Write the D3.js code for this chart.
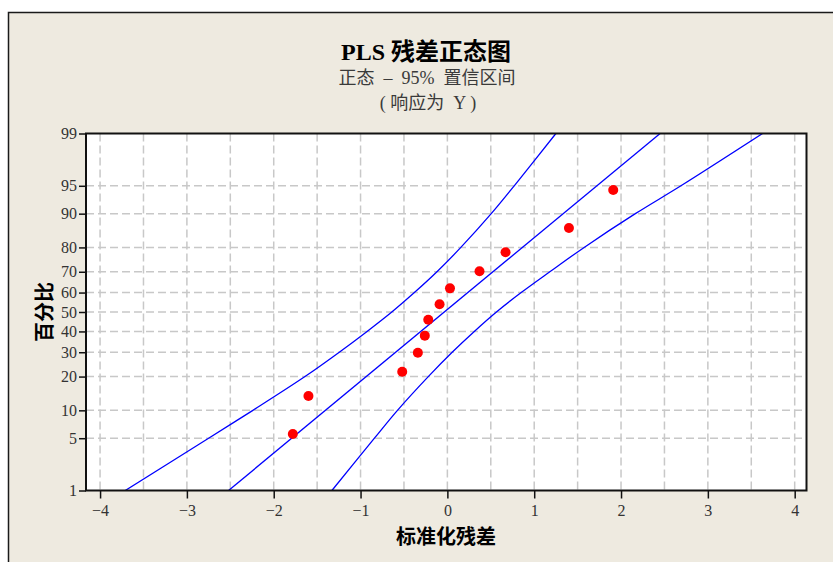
<!DOCTYPE html>
<html>
<head>
<meta charset="utf-8">
<script src="https://cdn.jsdelivr.net/npm/d3@7"></script>
<style>
body { margin: 0; background: #fff; }
</style>
</head>
<body>
<script>
// values
var pctTicks = [1, 5, 10, 20, 30, 40, 50, 60, 70, 80, 90, 95, 99];
var xTicks = [-4, -3, -2, -1, 0, 1, 2, 3, 4];
var gridX = [-4, -3.5, -3, -2.5, -2, -1.5, -1, -0.5, 0, 0.5, 1, 1.5, 2, 2.5, 3, 3.5, 4];
var residuals = [-1.78, -1.60, -0.52, -0.34, -0.26, -0.22, -0.09, 0.03, 0.37, 0.67, 1.40, 1.91];
var percents = [5.6, 13.7, 21.8, 29.8, 37.9, 46.0, 54.0, 62.1, 70.2, 78.2, 86.3, 94.4];
// fitted line, ends at 1% and 99%
var fitPct = [1, 99];
var fitX = [-2.52, 2.45];
// 95% band, x at each pctTicks value
var bandLeftX = [-3.71, -2.75, -2.24, -1.64, -1.245, -0.925, -0.64, -0.38, -0.12, 0.155, 0.505, 0.77, 1.25];
var bandRightX = [-1.33, -0.84, -0.575, -0.22, 0.055, 0.31, 0.565, 0.85, 1.18, 1.575, 2.165, 2.69, 3.63];

var width = 833, height = 562;
var pL = 86, pR = 806.5, pT = 133.5, pB = 490.5;

// inverse normal cdf (Acklam) for the probability axis
function probit(p) {
    var a = [-3.969683028665376e+01, 2.209460984245205e+02, -2.759285104469687e+02, 1.383577518672690e+02, -3.066479806614716e+01, 2.506628277459239e+00];
    var b = [-5.447609879822406e+01, 1.615858368580409e+02, -1.556989798598866e+02, 6.680131188771972e+01, -1.328068155288572e+01];
    var c = [-7.784894002430293e-03, -3.223964580411365e-01, -2.400758277161838e+00, -2.549732539343734e+00, 4.374664141464968e+00, 2.938163982698783e+00];
    var d = [7.784695709041462e-03, 3.224671290700398e-01, 2.445134137142996e+00, 3.754408661907416e+00];
    var q, r;
    if (p < 0.02425) {
        q = Math.sqrt(-2 * Math.log(p));
        return (((((c[0]*q+c[1])*q+c[2])*q+c[3])*q+c[4])*q+c[5]) / ((((d[0]*q+d[1])*q+d[2])*q+d[3])*q+1);
    }
    if (p > 1 - 0.02425) {
        q = Math.sqrt(-2 * Math.log(1 - p));
        return -(((((c[0]*q+c[1])*q+c[2])*q+c[3])*q+c[4])*q+c[5]) / ((((d[0]*q+d[1])*q+d[2])*q+d[3])*q+1);
    }
    q = p - 0.5; r = q * q;
    return (((((a[0]*r+a[1])*r+a[2])*r+a[3])*r+a[4])*r+a[5])*q / (((((b[0]*r+b[1])*r+b[2])*r+b[3])*r+b[4])*r+1);
}

var x = d3.scaleLinear().domain([-4.162, 4.136]).range([pL, pR]);
var zScale = d3.scaleLinear().domain([probit(0.01), probit(0.99)]).range([pB, pT]);
var y = function (pct) { return zScale(probit(pct / 100)); };

var svg = d3.select("body").append("svg")
    .attr("width", width)
    .attr("height", height);

// outer panel
svg.append("rect")
    .attr("x", 8.5).attr("y", 12.5)
    .attr("width", 836).attr("height", 560)
    .attr("fill", "#eeeae0")
    .attr("stroke", "#1a1a1a")
    .attr("stroke-width", 1.5);

// titles
var cjk = "'Liberation Serif', 'Noto Sans CJK SC', serif";
svg.append("text")
    .attr("x", 426).attr("y", 60)
    .attr("text-anchor", "middle")
    .style("font-family", cjk).style("font-size", "24px").style("font-weight", "bold")
    .attr("fill", "#000")
    .text("PLS  残差正态图");
svg.append("text")
    .attr("x", 427).attr("y", 84)
    .attr("text-anchor", "middle")
    .style("font-family", cjk).style("font-size", "18px")
    .style("white-space", "pre")
    .attr("fill", "#3a3a3a")
    .text("正态  –  95%  置信区间");
svg.append("text")
    .attr("x", 428).attr("y", 109)
    .attr("text-anchor", "middle")
    .style("font-family", cjk).style("font-size", "18px")
    .style("white-space", "pre")
    .attr("fill", "#3a3a3a")
    .text("( 响应为  Y )");

// plot area
svg.append("rect")
    .attr("x", pL).attr("y", pT)
    .attr("width", pR - pL).attr("height", pB - pT)
    .attr("fill", "#fff");

// grid
var grid = svg.append("g")
    .attr("stroke", "#c8c8c8")
    .attr("stroke-width", 1.5)
    .attr("stroke-dasharray", "8,4");
grid.selectAll(".gx")
    .data(gridX)
    .enter().append("line")
    .attr("x1", function (d) { return x(d); })
    .attr("x2", function (d) { return x(d); })
    .attr("y1", pT).attr("y2", pB);
grid.selectAll(".gy")
    .data(pctTicks.slice(1, -1))
    .enter().append("line")
    .attr("x1", pL).attr("x2", pR)
    .attr("y1", function (d) { return y(d); })
    .attr("y2", function (d) { return y(d); });

// axes
var tickFont = "'Liberation Serif', serif";
var xAxis = svg.append("g")
    .attr("transform", "translate(0," + pB + ")")
    .call(d3.axisBottom(x).tickValues(xTicks).tickSize(8).tickPadding(6));
var yAxis = svg.append("g")
    .attr("transform", "translate(" + pL + ",0)")
    .call(d3.axisLeft(zScale)
        .tickValues(pctTicks.map(function (p) { return probit(p / 100); }))
        .tickFormat(function (d, i) { return pctTicks[i]; })
        .tickSize(7).tickPadding(2));
[xAxis, yAxis].forEach(function (g) {
    g.select(".domain").remove();
    g.selectAll("line").attr("stroke", "#111").attr("stroke-width", 1.5);
    g.selectAll("text")
        .style("font-family", tickFont)
        .style("font-size", "16px")
        .attr("fill", "#333");
});

svg.append("clipPath").attr("id", "clip")
    .append("rect")
    .attr("x", pL).attr("y", pT)
    .attr("width", pR - pL).attr("height", pB - pT);

var plot = svg.append("g").attr("clip-path", "url(#clip)");

var line = d3.line()
    .x(function (d) { return x(d[0]); })
    .y(function (d) { return y(d[1]); })
    .curve(d3.curveCatmullRom.alpha(0.5));

plot.append("path")
    .datum(fitX.map(function (v, i) { return [v, fitPct[i]]; }))
    .attr("d", d3.line().x(function (d) { return x(d[0]); }).y(function (d) { return y(d[1]); }))
    .attr("fill", "none").attr("stroke", "#0000ff").attr("stroke-width", 1.3);

[bandLeftX, bandRightX].forEach(function (band) {
    plot.append("path")
        .datum(band.map(function (v, i) { return [v, pctTicks[i]]; }))
        .attr("d", line)
        .attr("fill", "none").attr("stroke", "#0000ff").attr("stroke-width", 1.3);
});

// points
svg.append("g").selectAll("circle")
    .data(residuals)
    .enter().append("circle")
    .attr("cx", function (d) { return x(d); })
    .attr("cy", function (d, i) { return y(percents[i]); })
    .attr("r", 5)
    .attr("fill", "#ff0000");

// plot frame
svg.append("rect")
    .attr("x", pL).attr("y", pT)
    .attr("width", pR - pL).attr("height", pB - pT)
    .attr("fill", "none")
    .attr("stroke", "#111")
    .attr("stroke-width", 2);

// axis titles
svg.append("text")
    .attr("x", 446).attr("y", 544)
    .attr("text-anchor", "middle")
    .style("font-family", cjk).style("font-size", "20px").style("font-weight", "bold")
    .text("标准化残差");
svg.append("text")
    .attr("transform", "translate(52,312) rotate(-90)")
    .attr("text-anchor", "middle")
    .style("font-family", cjk).style("font-size", "20px").style("font-weight", "bold")
    .text("百分比");
</script>
</body>
</html>
